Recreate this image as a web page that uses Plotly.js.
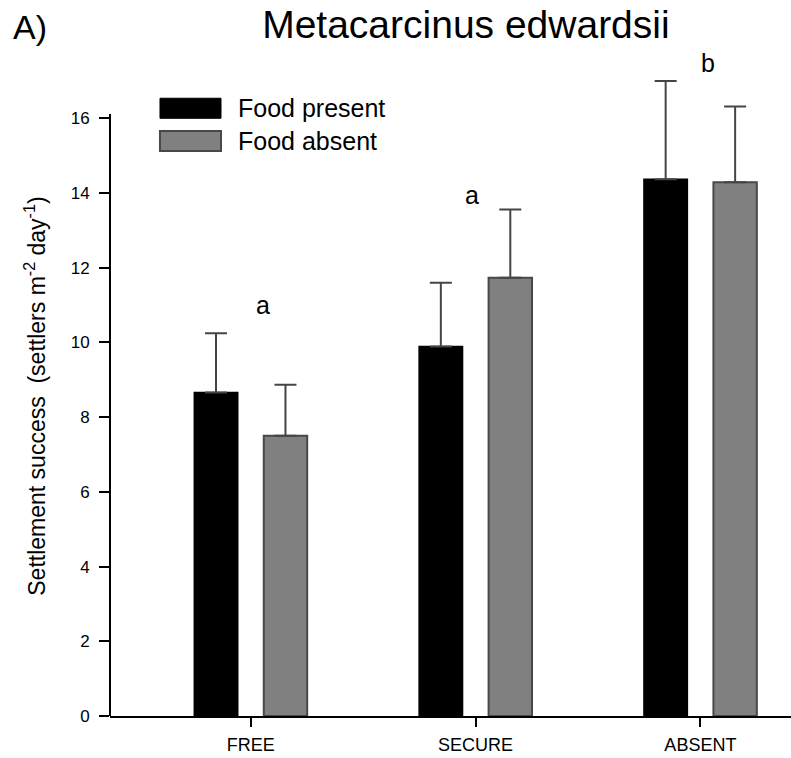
<!DOCTYPE html>
<html>
<head>
<meta charset="utf-8">
<script src="https://cdn.plot.ly/plotly-3.0.1.min.js"></script>
<style>html,body{margin:0;padding:0;background:#fff;}#chart{width:791px;height:758px;}</style>
</head>
<body>
<div id="chart"></div>
<script>
// Data
var categories = ["FREE", "SECURE", "ABSENT"];
var foodPresent = [8.66, 9.89, 14.37];
var foodPresentErr = [1.59, 1.71, 2.63];
var foodAbsent = [7.50, 11.73, 14.29];
var foodAbsentErr = [1.37, 1.83, 2.03];
var yTicks = [0, 2, 4, 6, 8, 10, 12, 14, 16];
var groupLetters = ["a", "a", "b"];
var seriesNames = ["Food present", "Food absent"];

var FONT = "Liberation Sans, Arial, sans-serif";

var traces = [
  {
    type: "bar", name: seriesNames[0], x: categories, y: foodPresent,
    marker: {color: "#000000", line: {color: "#000000", width: 1.5}},
    error_y: {type: "data", symmetric: false, array: foodPresentErr,
              arrayminus: [0, 0, 0], color: "#454545", thickness: 2, width: 11},
    showlegend: false
  },
  {
    type: "bar", name: seriesNames[1], x: categories, y: foodAbsent,
    marker: {color: "#808080", line: {color: "#484848", width: 2}},
    error_y: {type: "data", symmetric: false, array: foodAbsentErr,
              arrayminus: [0, 0, 0], color: "#454545", thickness: 2, width: 11},
    showlegend: false
  }
];

var letterOffsets = [0.055, -0.018, 0.036];
var letterY = [11.0, 13.95, 17.48];
var annotations = groupLetters.map(function (t, i) {
  return {x: i + letterOffsets[i], y: letterY[i], xref: "x", yref: "y", text: t,
          showarrow: false, xanchor: "center", yanchor: "middle",
          font: {family: FONT, size: 25, color: "#000"}};
});
annotations.push({x: -0.145, y: 0.997, xref: "paper", yref: "paper", text: "A)",
  showarrow: false, xanchor: "left", yanchor: "middle",
  font: {family: FONT, size: 34, color: "#000"}});
// custom legend text
annotations.push({x: 0.185, y: 0.880, xref: "paper", yref: "paper", text: seriesNames[0],
  showarrow: false, xanchor: "left", yanchor: "middle",
  font: {family: FONT, size: 25, color: "#000"}});
annotations.push({x: 0.185, y: 0.832, xref: "paper", yref: "paper", text: seriesNames[1],
  showarrow: false, xanchor: "left", yanchor: "middle",
  font: {family: FONT, size: 25, color: "#000"}});
// y axis title (placed as in the reference, slightly below the plot centre)
annotations.push({x: -0.110, y: 8.55, xref: "paper", yref: "y", textangle: -90,
  text: "Settlement success  (settlers m<sup>-2</sup> day<sup>-1</sup>)",
  showarrow: false, xanchor: "center", yanchor: "middle",
  font: {family: FONT, size: 23, color: "#000"}});

var shapes = [
  // y axis line (ends just above the 16 tick)
  {type: "line", xref: "paper", yref: "y", x0: 0, x1: 0, y0: 0, y1: 16.12,
   line: {color: "#000", width: 2}},
  // legend swatches
  {type: "rect", xref: "paper", yref: "paper", x0: 0.0734, x1: 0.163, y0: 0.865, y1: 0.894,
   fillcolor: "#000", line: {color: "#000", width: 1}},
  {type: "rect", xref: "paper", yref: "paper", x0: 0.0734, x1: 0.163, y0: 0.8177, y1: 0.8466,
   fillcolor: "#808080", line: {color: "#484848", width: 2}}
];

var layout = {
  width: 791, height: 758,
  margin: {l: 110, r: 0, t: 25, b: 42},
  paper_bgcolor: "#fff", plot_bgcolor: "#fff",
  font: {family: FONT, color: "#000"},
  title: {text: "Metacarcinus edwardsii", x: 0.589, xref: "container", xanchor: "center",
          y: 0.968, yref: "container", yanchor: "middle",
          font: {family: FONT, size: 39, color: "#000"}},
  barmode: "group", bargap: 0.382, bargroupgap: 0.375,
  xaxis: {type: "category", range: [-0.626, 2.403], showline: true, linecolor: "#000",
          linewidth: 2, ticks: "outside", ticklen: 9, tickwidth: 2, tickcolor: "#000",
          showgrid: false, zeroline: false, tickfont: {family: FONT, size: 18, color: "#000"},
          ticklabelstandoff: 2, fixedrange: true},
  yaxis: {range: [0, 18.5], tickvals: yTicks, ticktext: yTicks.map(String), showline: false,
          ticks: "outside", ticklen: 10, tickwidth: 2, tickcolor: "#000", showgrid: false,
          zeroline: false, tickfont: {family: FONT, size: 17, color: "#000"},
          ticklabelstandoff: 6, fixedrange: true},
  annotations: annotations,
  shapes: shapes
};

Plotly.newPlot("chart", traces, layout, {displayModeBar: false, staticPlot: true});
</script>
</body>
</html>
